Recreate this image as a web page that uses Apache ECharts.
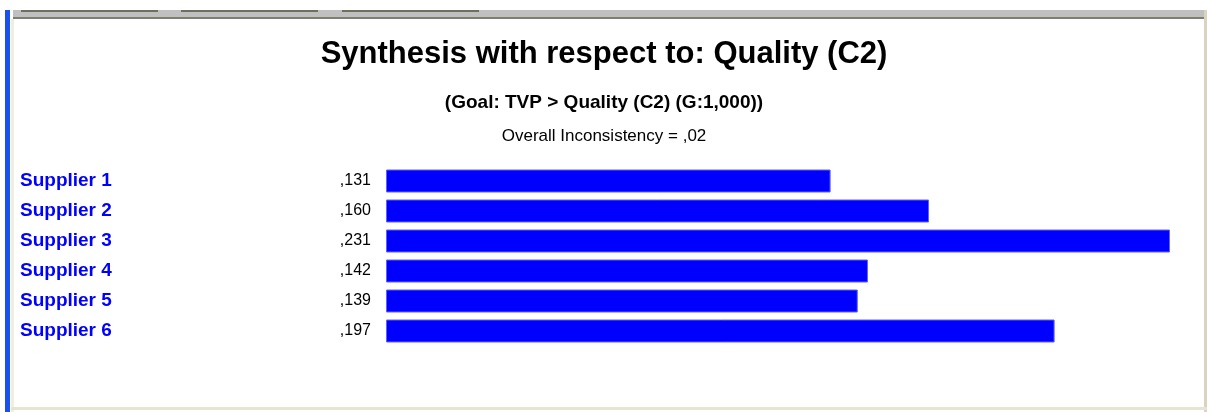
<!DOCTYPE html>
<html><head><meta charset="utf-8">
<script src="https://cdn.jsdelivr.net/npm/echarts@6/dist/echarts.min.js"></script>
<style>html,body{margin:0;padding:0;background:#fff}#c{width:1208px;height:412px}</style>
</head><body><div id="c"></div>
<script>
const categories = ['Supplier 1','Supplier 2','Supplier 3','Supplier 4','Supplier 5','Supplier 6'];
const values = [0.131, 0.160, 0.231, 0.142, 0.139, 0.197];
const valueLabels = [',131', ',160', ',231', ',142', ',139', ',197'];
const titleText = 'Synthesis with respect to: Quality (C2)';
const subtitleText = '(Goal: TVP > Quality (C2) (G:1,000))';
const noteText = 'Overall Inconsistency = ,02';

const chart = echarts.init(document.getElementById('c'), null, {renderer:'canvas'});
const ff = '"Liberation Sans", Arial, sans-serif';
chart.setOption({
  animation:false,
  backgroundColor:'#fff',
  title:[
    {text:titleText, left:'center', top:34, textStyle:{fontFamily:ff, fontWeight:'bold', fontSize:31, color:'#000'}},
    {text:subtitleText, left:'center', top:88, textStyle:{fontFamily:ff, fontWeight:'bold', fontSize:19, color:'#000'}},
    {text:noteText, left:'center', top:123, textStyle:{fontFamily:ff, fontWeight:'normal', fontSize:17, color:'#000'}}
  ],
  grid:{left:386, right:38, top:166, bottom:66, containLabel:false},
  xAxis:{type:'value', min:0, max:0.231, show:false},
  yAxis:{type:'category', data:categories, inverse:true,
    axisLine:{show:false}, axisTick:{show:false}, splitLine:{show:false},
    axisLabel:{align:'left', margin:366, color:'#0000ff', fontFamily:ff, fontWeight:'bold', fontSize:19}},
  series:[{type:'bar', data:values, barWidth:23, itemStyle:{color:'#0000ff', borderColor:'#6060ff', borderWidth:1},
    label:{show:true, position:'left', distance:15, color:'#000', fontFamily:ff, fontSize:16,
      formatter:p=>valueLabels[p.dataIndex]}}],
  graphic:[
    {type:'rect', shape:{x:13, y:10, width:1193, height:9}, style:{fill:'#c0c0c0'}, silent:true},
    {type:'rect', shape:{x:13, y:17, width:1193, height:2}, style:{fill:'#7f7f70'}, silent:true},
    {type:'rect', shape:{x:21, y:10, width:137, height:2}, style:{fill:'#6f6f60'}, silent:true},
    {type:'rect', shape:{x:181, y:10, width:137, height:2}, style:{fill:'#6f6f60'}, silent:true},
    {type:'rect', shape:{x:342, y:10, width:137, height:2}, style:{fill:'#6f6f60'}, silent:true},
    {type:'rect', shape:{x:5, y:10, width:5, height:402}, style:{fill:'#1a4ff0'}, silent:true},
    {type:'rect', shape:{x:11, y:19, width:3, height:393}, style:{fill:'#f0eee0'}, silent:true},
    {type:'rect', shape:{x:1204, y:10, width:3, height:402}, style:{fill:'#d8d4c0'}, silent:true},
    {type:'rect', shape:{x:11, y:407, width:1196, height:3}, style:{fill:'#e8e4d4'}, silent:true}
  ]
});
</script></body></html>
